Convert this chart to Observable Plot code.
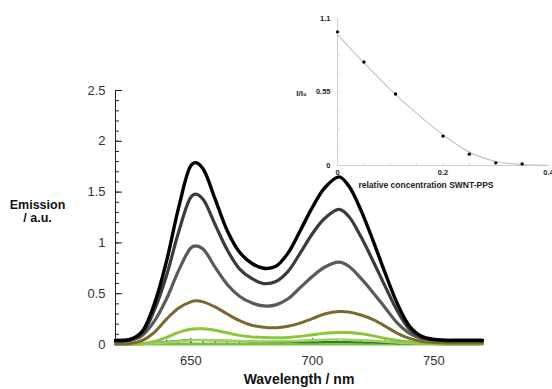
<!DOCTYPE html>
<html><head><meta charset="utf-8">
<script src="https://cdn.jsdelivr.net/npm/d3@7"></script>
<script src="https://cdn.jsdelivr.net/npm/@observablehq/plot@0.6"></script>
<style>
body{margin:0;background:#fff;}
#wrap{position:relative;width:552px;height:389px;overflow:hidden;font-family:"Liberation Sans",Arial,sans-serif;}
#wrap svg{position:absolute;}
</style></head><body><div id="wrap"></div>
<script>
// Main spectra (emission vs wavelength)
const wavelength = [619,625,630,635,640,645,650,652,655,660,665,670,675,680,685,690,695,700,705,711,715,720,725,730,735,740,745,750,755,760,765,770];
const black     = [0.04,0.05,0.13,0.40,0.82,1.35,1.76,1.79,1.73,1.43,1.12,0.91,0.80,0.75,0.77,0.90,1.12,1.35,1.54,1.65,1.56,1.32,1.02,0.70,0.40,0.18,0.08,0.05,0.04,0.04,0.04,0.04];
const darkGray  = [0.04,0.05,0.11,0.34,0.68,1.11,1.45,1.48,1.43,1.18,0.93,0.745,0.65,0.60,0.62,0.72,0.90,1.09,1.24,1.33,1.26,1.06,0.82,0.57,0.33,0.15,0.07,0.05,0.04,0.04,0.04,0.04];
const gray      = [0.03,0.04,0.09,0.23,0.45,0.73,0.95,0.97,0.94,0.76,0.59,0.475,0.41,0.38,0.39,0.45,0.56,0.67,0.76,0.81,0.77,0.65,0.51,0.36,0.21,0.11,0.06,0.045,0.04,0.04,0.04,0.04];
const olive     = [0.005,0.01,0.04,0.12,0.25,0.36,0.42,0.43,0.42,0.37,0.30,0.235,0.19,0.17,0.165,0.18,0.21,0.255,0.30,0.325,0.32,0.29,0.245,0.18,0.11,0.06,0.03,0.02,0.015,0.015,0.015,0.015];
const lightGreen= [0.005,0.005,0.01,0.03,0.07,0.12,0.15,0.155,0.155,0.14,0.115,0.09,0.075,0.068,0.067,0.07,0.08,0.095,0.11,0.118,0.117,0.105,0.085,0.06,0.04,0.025,0.015,0.01,0.008,0.008,0.008,0.008];
const paleGreen = [0.003,0.003,0.005,0.01,0.02,0.032,0.042,0.045,0.045,0.042,0.038,0.034,0.031,0.03,0.031,0.033,0.037,0.042,0.046,0.048,0.047,0.043,0.036,0.027,0.019,0.012,0.008,0.006,0.005,0.005,0.005,0.005];
const darkGreen = [0.003,0.003,0.006,0.015,0.028,0.038,0.044,0.045,0.045,0.042,0.038,0.034,0.03,0.027,0.025,0.024,0.023,0.023,0.024,0.025,0.024,0.022,0.019,0.015,0.011,0.008,0.006,0.004,0.003,0.003,0.003,0.003];
const baseGreen = [0.004,0.004,0.004,0.004,0.004,0.004,0.004,0.004,0.004,0.004,0.004,0.004,0.004,0.004,0.004,0.004,0.004,0.004,0.004,0.004,0.004,0.004,0.004,0.004,0.004,0.004,0.004,0.004,0.004,0.004,0.004,0.004];

const yMajor = [0,0.5,1,1.5,2,2.5];
const yMinor = d3.range(0, 2.5001, 0.1);
const xLabels = [650,700,750];
const xMinor = d3.range(620, 771, 5);

// Inset: I/I0 vs relative concentration
const concentration = [0, 0.05, 0.11, 0.2, 0.25, 0.3, 0.35];
const ratio = [1.0, 0.775, 0.535, 0.22, 0.085, 0.02, 0.012];
const fitX = [0, 0.05, 0.1, 0.15, 0.2, 0.25, 0.3, 0.35, 0.4];
const fitY = [0.98, 0.77, 0.57, 0.39, 0.23, 0.10, 0.03, 0.006, 0.002];
const insetYTicks = [0, 0.55, 1.1];
const insetYMinor = d3.range(1, 8).map(k => k * 1.1 / 8);
const insetXTicks = [0, 0.2, 0.4];
const insetXMinor = d3.range(1, 8).map(k => k * 0.05);

const series = [
  {v: baseGreen, c: "#7cc242", w: 3},
  {v: darkGreen, c: "#2e7d3a", w: 2},
  {v: paleGreen, c: "#9fd160", w: 2.5},
  {v: lightGreen, c: "#8cc63f", w: 3},
  {v: olive, c: "#7b6a30", w: 3},
  {v: gray, c: "#5a5a5a", w: 3.2},
  {v: darkGray, c: "#3b3b3b", w: 3.2},
  {v: black, c: "#000000", w: 3.4}
];

const fw = 552 - 115 - 70, fh = 389 - 90 - 45;
const main = Plot.plot({
  width: 552, height: 389,
  marginLeft: 115, marginRight: 70, marginTop: 90, marginBottom: 45,
  style: {background: "transparent", fontFamily: "Liberation Sans, Arial, sans-serif"},
  x: {domain: [619, 770]},
  y: {domain: [0, 2.5]},
  marks: [
    Plot.ruleX([619], {stroke: "#222"}),
    Plot.ruleY([0], {stroke: "#222"}),
    Plot.ruleY(yMinor, {y: d => d, insetRight: fw - 4, stroke: "#222"}),
    Plot.ruleY(yMajor, {y: d => d, insetRight: fw - 7, stroke: "#222"}),
    Plot.ruleX(xMinor, {x: d => d, insetTop: fh - 4, stroke: "#222"}),
    Plot.ruleX(xLabels, {x: d => d, insetTop: fh - 6, stroke: "#222"}),
    Plot.axisY({ticks: yMajor, tickSize: 0, tickPadding: 10, fontSize: 13, fill: "#333", label: null, tickFormat: d => String(d)}),
    Plot.axisX({ticks: xLabels, tickSize: 0, tickPadding: 11, fontSize: 13, fill: "#333", label: null, tickFormat: d => String(d)}),
    ...series.map(s => Plot.line(wavelength, {x: d => d, y: (d, i) => s.v[i], curve: "catmull-rom", stroke: s.c, strokeWidth: s.w})),
    Plot.text(["Wavelength / nm"], {frameAnchor: "bottom", dy: 39, fontSize: 14, fontWeight: "bold", fill: "#111"}),
    Plot.text(["Emission\n/ a.u."], {frameAnchor: "left", textAnchor: "middle", dx: -78, dy: -6, fontSize: 12.5, fontWeight: "bold", fill: "#111", lineHeight: 1.05})
  ]
});
main.style.left = "0px"; main.style.top = "0px";

const inset = Plot.plot({
  width: 272, height: 195,
  marginLeft: 57, marginRight: 4, marginTop: 18, marginBottom: 30,
  style: {background: "transparent", fontFamily: "Liberation Sans, Arial, sans-serif"},
  x: {domain: [0, 0.4]},
  y: {domain: [0, 1.1]},
  marks: [
    Plot.ruleY(insetYMinor, {y: d => d, insetRight: 211 - 3, stroke: "#e2e2e2"}),
    Plot.ruleX(insetXMinor, {x: d => d, insetTop: 147 - 3, stroke: "#e2e2e2"}),
    Plot.ruleX([0], {stroke: "#cfcfcf"}),
    Plot.ruleY([0], {stroke: "#cfcfcf"}),
    Plot.axisY({ticks: insetYTicks, tickSize: 0, tickPadding: 7, fontSize: 7.5, fontWeight: "bold", fill: "#222", label: null, tickFormat: d => String(d)}),
    Plot.axisX({ticks: insetXTicks, tickSize: 0, tickPadding: 4, fontSize: 7.5, fontWeight: "bold", fill: "#222", label: null, tickFormat: d => String(d)}),
    Plot.line(fitX, {x: d => d, y: (d, i) => fitY[i], curve: "catmull-rom", stroke: "#c4c4c4", strokeWidth: 1.2}),
    Plot.dot(concentration, {x: d => d, y: (d, i) => ratio[i], r: 1.7, fill: "#000"}),
    Plot.text(["I/I₀"], {frameAnchor: "left", textAnchor: "middle", dx: -36, dy: 1, fontSize: 8, fontWeight: "bold", fill: "#222"}),
    Plot.text(["relative concentration SWNT-PPS"], {frameAnchor: "bottom", dx: -17, dy: 22, fontSize: 8.5, fontWeight: "bold", fill: "#222"})
  ]
});
inset.style.left = "280px"; inset.style.top = "0px";

const wrap = document.getElementById("wrap");
wrap.appendChild(main);
wrap.appendChild(inset);
</script>
</body></html>
